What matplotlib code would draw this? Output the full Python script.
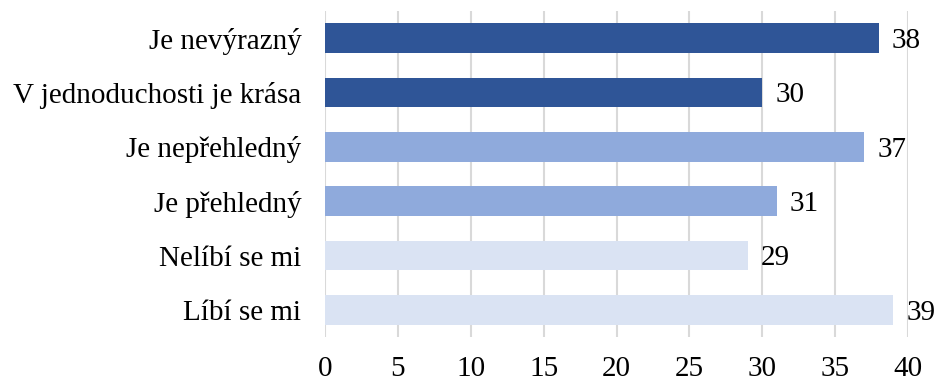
import matplotlib.pyplot as plt

categories = ["Je nevýrazný", "V jednoduchosti je krása", "Je nepřehledný",
              "Je přehledný", "Nelíbí se mi", "Líbí se mi"]
values = [38, 30, 37, 31, 29, 39]
colors = ["#2F5597", "#2F5597", "#8FAADC", "#8FAADC", "#DAE3F3", "#DAE3F3"]
xticks = [0, 5, 10, 15, 20, 25, 30, 35, 40]

plt.rcParams['font.family'] = ['Liberation Serif', 'DejaVu Serif']

fig = plt.figure(figsize=(9.41, 3.82), dpi=100)
ax = fig.add_axes([0.3454, 0.1178, 0.6196, 0.8534])

pos = list(range(len(categories)))
ax.barh(pos, values, height=0.54, color=colors, zorder=3)
for p, v in zip(pos, values):
    ax.text(v + 0.9, p + 0.05, str(v), va='center', ha='left', fontsize=21)

ax.set_yticks(pos)
ax.set_yticklabels(categories, fontsize=21)
ax.set_xticks(xticks)
ax.set_xticklabels([str(t) for t in xticks], fontsize=21)
ax.set_xlim(0, 40)
ax.set_ylim(5.5, -0.5)
ax.grid(axis='x', color='#D9D9D9', linewidth=1.5, zorder=0)
ax.tick_params(length=0)
ax.tick_params(axis='y', pad=17)
ax.tick_params(axis='x', pad=14)
for s in ax.spines.values():
    s.set_visible(False)

fig.savefig("out.png", dpi=100)
